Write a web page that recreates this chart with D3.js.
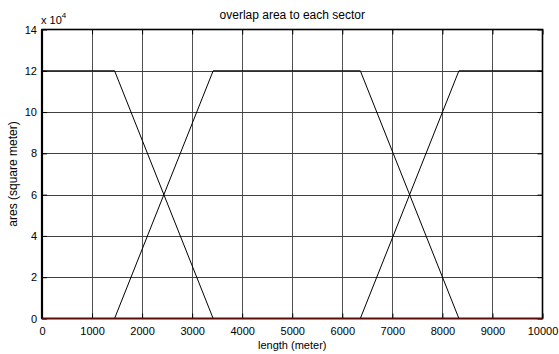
<!DOCTYPE html>
<html>
<head>
<meta charset="utf-8">
<script src="https://cdn.jsdelivr.net/npm/d3@7"></script>
<style>
  html, body { margin: 0; padding: 0; background: #fff; }
  svg { display: block; font-family: "Liberation Sans", Arial, sans-serif; }
</style>
</head>
<body>
<svg id="chart" width="559" height="354"></svg>
<script>
// Overlap area (square metres) between a moving point and each sector, by length along the route
const sectorA = { x: [0, 1450, 3420, 10000], y: [120000, 120000, 0, 0] };
const sectorB = { x: [0, 1450, 3420, 6360, 8330, 10000], y: [0, 0, 120000, 120000, 0, 0] };
const sectorC = { x: [0, 6360, 8330, 10000], y: [0, 0, 120000, 120000] };
const sectorD = { x: [0, 10000], y: [0, 0] };

const xTicks = [0, 1000, 2000, 3000, 4000, 5000, 6000, 7000, 8000, 9000, 10000];
const yTicks = [0, 20000, 40000, 60000, 80000, 100000, 120000, 140000];
const yTickLabels = ["0", "2", "4", "6", "8", "10", "12", "14"];

const titleText = "overlap area to each sector";
const xLabelText = "length (meter)";
const yLabelText = "ares (square meter)";

const svg = d3.select("#chart");
const plotLeft = 42, plotRight = 542.5, plotTop = 29.5, plotBottom = 318.5;

const x = d3.scaleLinear().domain([0, 10000]).range([plotLeft, plotRight]);
const y = d3.scaleLinear().domain([0, 140000]).range([plotBottom, plotTop]);

// grid
const grid = svg.append("g");
grid.selectAll("line.v").data(xTicks.slice(1, -1)).join("line")
  .attr("x1", d => Math.round(x(d)) + 0.5).attr("x2", d => Math.round(x(d)) + 0.5)
  .attr("y1", plotTop).attr("y2", plotBottom)
  .attr("stroke", "#505050").attr("stroke-width", 1);
grid.selectAll("line.h").data(yTicks.slice(1, -1)).join("line")
  .attr("y1", d => Math.round(y(d)) + 0.5).attr("y2", d => Math.round(y(d)) + 0.5)
  .attr("x1", plotLeft).attr("x2", plotRight)
  .attr("stroke", "#404040").attr("stroke-width", 1);

// axes (ticks pointing inward, labels outside)
const xAxis = d3.axisBottom(x).tickValues(xTicks).tickSize(-5).tickPadding(9).tickFormat(d3.format("d"));
const gx = svg.append("g").attr("transform", `translate(0,${plotBottom})`).call(xAxis);
const yAxis = d3.axisLeft(y).tickValues(yTicks).tickSize(-5).tickPadding(5)
  .tickFormat((d, i) => yTickLabels[i]);
const gy = svg.append("g").attr("transform", `translate(${plotLeft},0)`).call(yAxis);
[gx, gy].forEach(g => {
  g.select(".domain").remove();
  g.selectAll(".tick line").attr("stroke", "#000");
  g.selectAll(".tick text").attr("font-size", 11).attr("fill", "#000")
    .attr("font-family", "'Liberation Sans', Arial, sans-serif");
});
gx.selectAll(".tick text").attr("dy", "0.71em");

// mirrored ticks on top and right edges
const gxt = svg.append("g").attr("transform", `translate(0,${plotTop})`)
  .call(d3.axisTop(x).tickValues(xTicks).tickSize(-5).tickFormat(""));
const gyr = svg.append("g").attr("transform", `translate(${plotRight},0)`)
  .call(d3.axisRight(y).tickValues(yTicks).tickSize(-5).tickFormat(""));
[gxt, gyr].forEach(g => { g.select(".domain").remove(); g.selectAll(".tick line").attr("stroke", "#000"); });

// series
const line = d3.line().x(d => x(d[0])).y(d => y(d[1]));
const toPts = s => s.x.map((v, i) => [v, s.y[i]]);
[sectorA, sectorB, sectorC].forEach(s => {
  svg.append("path").datum(toPts(s)).attr("d", line)
    .attr("fill", "none").attr("stroke", "#000").attr("stroke-width", 1);
});

// box
svg.append("rect").attr("x", plotLeft).attr("y", plotTop)
  .attr("width", plotRight - plotLeft).attr("height", plotBottom - plotTop)
  .attr("fill", "none").attr("stroke", "#000").attr("stroke-width", 1.6);
svg.append("line").attr("x1", plotLeft).attr("x2", plotLeft).attr("y1", plotTop).attr("y2", plotBottom)
  .attr("stroke", "#000").attr("stroke-width", 2.2);

svg.append("path").datum(toPts(sectorD)).attr("d", line)
  .attr("fill", "none").attr("stroke", "#5e0c0c").attr("stroke-width", 1.4);

// labels
svg.append("text").attr("x", (plotLeft + plotRight) / 2).attr("y", 19).attr("text-anchor", "middle")
  .attr("font-size", 12).text(titleText);
svg.append("text").attr("x", (plotLeft + plotRight) / 2).attr("y", 349).attr("text-anchor", "middle")
  .attr("font-size", 11).text(xLabelText);
svg.append("text").attr("transform", `translate(17,${(plotTop + plotBottom) / 2}) rotate(-90)`)
  .attr("text-anchor", "middle").attr("font-size", 12).text(yLabelText);

const exp = svg.append("text").attr("x", 41).attr("y", 24).attr("font-size", 11);
exp.append("tspan").text("x 10");
exp.append("tspan").attr("dy", -6).attr("font-size", 8).text("4");
</script>
</body>
</html>
